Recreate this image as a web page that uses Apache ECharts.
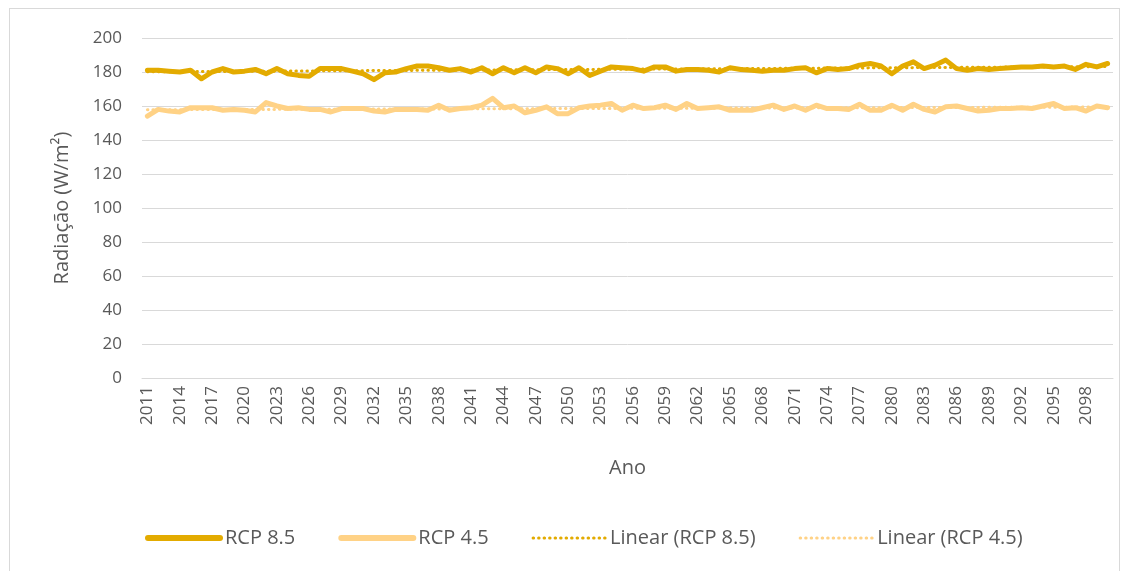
<!DOCTYPE html>
<html>
    <head>
        <meta charset="UTF-8">
        <title>Radiação RCP 8.5 / RCP 4.5</title>
        <script src="https://cdn.jsdelivr.net/npm/echarts@6/dist/echarts.min.js"></script>
        <style>
            html, body {
                margin: 0;
                padding: 0;
                background: #ffffff;
            }
            .frame {
                position: absolute;
                left: 9px;
                top: 8px;
                width: 1111px;
                height: 570px;
                border: 1px solid #d9d9d9;
                box-sizing: border-box;
            }
            #chart {
                position: absolute;
                left: 0;
                top: 0;
                width: 1129px;
                height: 571px;
            }
        </style>
    </head>
    <body>
        <div class="frame"></div>
        <div id="chart"></div>
        <script>
            // anos 2011..2100
            const years = [];
            for ( let y = 2011; y <= 2100; y++ ) {
                years.push( String(y) );
            }

            const rcp85 = [
                181, 181, 180.5, 180, 181, 176, 180, 182, 180, 180.5,
                181.5, 179, 182, 179, 178, 177.5, 182, 182, 182, 180.5,
                179, 175.5, 179.5, 180, 182, 183.5, 183.5, 182.5, 181, 182,
                180, 182.5, 179, 182.5, 179.5, 182.5, 179.5, 183, 182, 179,
                182.5, 178, 180.5, 183, 182.5, 182, 180.5, 183, 183, 180.5,
                181.5, 181.5, 181, 180, 182.5, 181.5, 181, 180.5, 181, 181,
                182, 182.5, 179.5, 182, 181.5, 182, 184, 185, 183.5, 179,
                183.5, 186, 182, 184, 187, 182, 181, 182, 181.5, 182,
                182.5, 183, 183, 183.5, 183, 183.5, 181.5, 184.5, 183, 185
            ];

            const rcp45 = [
                154, 158, 157, 156.5, 159, 159, 159, 157.5, 158, 157.5,
                156.5, 162, 160, 158.5, 159, 158, 158, 156.5, 158.5, 158.5,
                158.5, 157, 156.5, 158, 158, 158, 157.5, 160.5, 157.5, 158.5,
                159, 160.5, 164.5, 159, 160, 156, 157.5, 159.5, 155.5, 155.5,
                159, 160, 160.5, 161.5, 157.5, 160.5, 158.5, 159, 160.5, 158,
                161.5, 158.5, 159, 159.5, 157.5, 157.5, 157.5, 159, 160.5, 158,
                160, 157.5, 160.5, 158.5, 158.5, 158, 161, 157.5, 157.5, 160.5,
                157.5, 161, 158, 156.5, 159.5, 160, 158.5, 157, 157.5, 158.5,
                158.5, 159, 158.5, 160, 161.5, 158.5, 159, 157, 160, 159
            ];

            // extremos das linhas de tendência
            const trend85 = [180.1, 183.2];
            const trend45 = [157.8, 159.4];

            const dark = '#E3AB00';
            const light = '#FFD286';
            const font = 'Open Sans';

            const first = years[0];
            const last = years[years.length - 1];

            const chart = echarts.init( document.getElementById('chart') );

            chart.setOption({
                animation: false,
                textStyle: { fontFamily: font },
                grid: {
                    left: 142,
                    right: 16,
                    top: 38,
                    bottom: 193,
                    containLabel: false
                },
                xAxis: {
                    type: 'category',
                    data: years,
                    boundaryGap: true,
                    name: 'Ano',
                    nameLocation: 'middle',
                    nameGap: 80,
                    nameTextStyle: { fontSize: 20, color: '#595959', fontFamily: font },
                    axisLine: { lineStyle: { color: '#d9d9d9', width: 1 } },
                    axisTick: { show: false },
                    axisLabel: {
                        interval: 2,
                        rotate: 90,
                        fontSize: 17,
                        color: '#595959',
                        margin: 8,
                        fontFamily: font
                    }
                },
                yAxis: {
                    type: 'value',
                    min: 0,
                    max: 200,
                    interval: 20,
                    name: 'Radiação (W/m²)',
                    nameLocation: 'middle',
                    nameRotate: 90,
                    nameGap: 70,
                    nameTextStyle: { fontSize: 20, color: '#595959', fontFamily: font },
                    axisLine: { show: false },
                    axisTick: { show: false },
                    axisLabel: { fontSize: 17, color: '#595959', margin: 20, fontFamily: font },
                    splitLine: { lineStyle: { color: '#d9d9d9', width: 1 } }
                },
                legend: {
                    bottom: 18,
                    left: 140,
                    itemWidth: 72,
                    itemHeight: 6,
                    itemGap: 43,
                    itemStyle: { opacity: 0 },
                    textStyle: { fontSize: 20, color: '#595959', fontFamily: font },
                    data: [
                        { name: 'RCP 8.5', lineStyle: { width: 6, cap: 'round' } },
                        { name: 'RCP 4.5', lineStyle: { width: 6, cap: 'round' } },
                        { name: 'Linear (RCP 8.5)', lineStyle: { width: 3, type: [0.5, 5], cap: 'round' } },
                        { name: 'Linear (RCP 4.5)', lineStyle: { width: 3, type: [0.5, 5], cap: 'round' } }
                    ]
                },
                series: [
                    {
                        name: 'RCP 8.5',
                        type: 'line',
                        data: rcp85,
                        symbol: 'none',
                        lineStyle: { color: dark, width: 5, cap: 'round', join: 'round' },
                        itemStyle: { color: dark },
                        z: 3
                    },
                    {
                        name: 'RCP 4.5',
                        type: 'line',
                        data: rcp45,
                        symbol: 'none',
                        lineStyle: { color: light, width: 5, cap: 'round', join: 'round' },
                        itemStyle: { color: light },
                        z: 3
                    },
                    {
                        name: 'Linear (RCP 8.5)',
                        type: 'line',
                        data: [ [first, trend85[0]], [last, trend85[1]] ],
                        symbol: 'none',
                        lineStyle: { color: dark, width: 3, type: [0.5, 5], cap: 'round' },
                        itemStyle: { color: dark },
                        z: 2
                    },
                    {
                        name: 'Linear (RCP 4.5)',
                        type: 'line',
                        data: [ [first, trend45[0]], [last, trend45[1]] ],
                        symbol: 'none',
                        lineStyle: { color: light, width: 3, type: [0.5, 5], cap: 'round' },
                        itemStyle: { color: light },
                        z: 2
                    }
                ]
            });
        </script>
    </body>
</html>
